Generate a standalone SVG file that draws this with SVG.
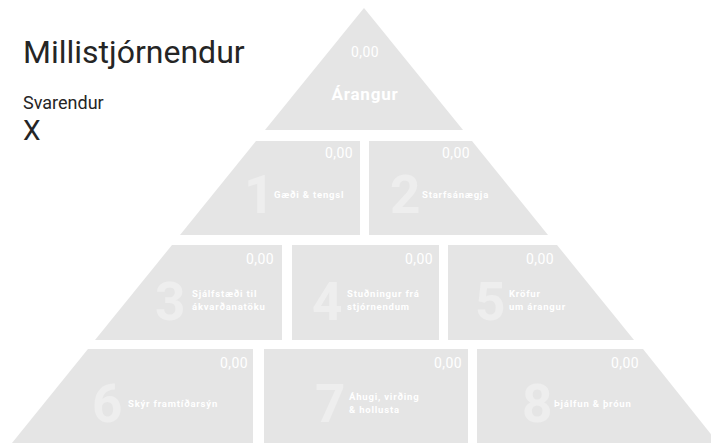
<svg xmlns="http://www.w3.org/2000/svg" width="711" height="443" viewBox="0 0 711 443">
<style>
.blk{fill:#e5e5e5}
.val{font-family:Roboto,"Liberation Sans",sans-serif;font-size:14px;fill:#ffffff;text-anchor:end;letter-spacing:0.4px}
.num{font-family:Roboto,"Liberation Sans",sans-serif;font-size:53px;font-weight:bold;fill:#eeeeee}
.lbl{font-family:Roboto,"Liberation Sans",sans-serif;font-size:9.5px;font-weight:bold;fill:#ffffff;letter-spacing:0.8px}
.title{font-family:Roboto,"Liberation Sans",sans-serif;fill:#252525}
</style>
<rect width="711" height="443" fill="#ffffff"/>
<g id="header">
<text class="title" x="23" y="63" font-size="32">Millistjórnendur</text>
<text class="title" x="23" y="109" font-size="18">Svarendur</text>
<text class="title" x="23" y="140" font-size="28">X</text>
</g>
<g id="top">
<polygon class="blk" points="364,8 463,130 265,130"/>
<text class="val" x="379" y="57">0,00</text>
<text x="365" y="100" text-anchor="middle" font-family="Roboto, 'Liberation Sans', sans-serif" font-size="17" font-weight="bold" fill="#ffffff" letter-spacing="0.8">Árangur</text>
</g>
<g id="n1">
<polygon class="blk" points="256,141 360,141 360,235 180,235"/>
<text class="val" x="353" y="158">0,00</text>
<text class="num" x="244" y="213">1</text>
<text class="lbl" x="274" y="198">Gæði &amp; tengsl</text>
</g>
<g id="n2">
<polygon class="blk" points="369,141 472,141 548,235 369,235"/>
<text class="val" x="470" y="158">0,00</text>
<text class="num" x="390" y="213">2</text>
<text class="lbl" x="422" y="198">Starfsánægja</text>
</g>
<g id="n3">
<polygon class="blk" points="172,245 282,245 282,340 95,340"/>
<text class="val" x="274" y="264">0,00</text>
<text class="num" x="155" y="320">3</text>
<text class="lbl" x="192" y="297">Sjálfstæði til</text>
<text class="lbl" x="192" y="310">ákvarðanatöku</text>
</g>
<g id="n4">
<polygon class="blk" points="292,245 439,245 439,340 292,340"/>
<text class="val" x="433" y="264">0,00</text>
<text class="num" x="312" y="320">4</text>
<text class="lbl" x="347" y="297">Stuðningur frá</text>
<text class="lbl" x="347" y="310">stjórnendum</text>
</g>
<g id="n5">
<polygon class="blk" points="448,245 557,245 634,340 448,340"/>
<text class="val" x="554" y="264">0,00</text>
<text class="num" x="475" y="320">5</text>
<text class="lbl" x="509" y="297">Kröfur</text>
<text class="lbl" x="509" y="310">um árangur</text>
</g>
<g id="n6">
<polygon class="blk" points="88,349 253,349 253,443 12,443"/>
<text class="val" x="248" y="368">0,00</text>
<text class="num" x="92" y="422">6</text>
<text class="lbl" x="128" y="407">Skýr framtíðarsýn</text>
</g>
<g id="n7">
<polygon class="blk" points="264,349 468,349 468,443 264,443"/>
<text class="val" x="462" y="368">0,00</text>
<text class="num" x="315" y="422">7</text>
<text class="lbl" x="349" y="400">Áhugi, virðing</text>
<text class="lbl" x="349" y="413">&amp; hollusta</text>
</g>
<g id="n8">
<polygon class="blk" points="477,349 643,349 718,443 477,443"/>
<text class="val" x="639" y="368">0,00</text>
<text class="num" x="522" y="422">8</text>
<text class="lbl" x="554" y="407">Þjálfun &amp; þróun</text>
</g>
<g id="connectors"/>
</svg>
